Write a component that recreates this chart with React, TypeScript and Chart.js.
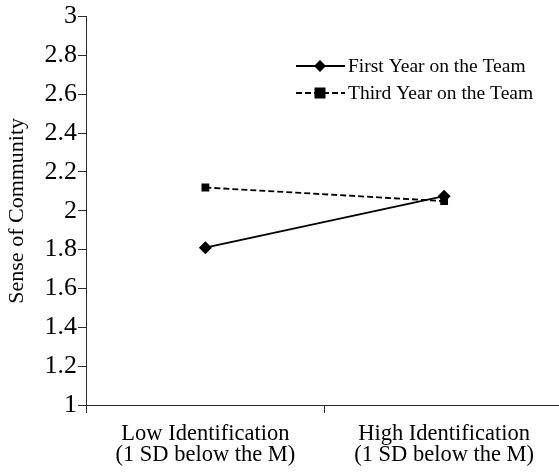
import React, { useEffect, useRef } from "react";
import { Chart, registerables } from "chart.js";

Chart.register(...registerables);

const categories: string[][] = [
  ["Low Identification", "(1 SD below the M)"],
  ["High Identification", "(1 SD below the M)"],
];
const firstYear: number[] = [1.81, 2.075];
const thirdYear: number[] = [2.12, 2.05];
const seriesNames: string[] = ["First Year on the Team", "Third Year on the Team"];
const yTicks: number[] = [1, 1.2, 1.4, 1.6, 1.8, 2, 2.2, 2.4, 2.6, 2.8, 3];
const yTickLabels: string[] = ["1", "1.2", "1.4", "1.6", "1.8", "2", "2.2", "2.4", "2.6", "2.8", "3"];
const yTitle = "Sense of Community";

const FONT = "'Times New Roman', 'Liberation Serif', serif";
const AXIS = "#2a2a2a";

function drawMarker(ctx: CanvasRenderingContext2D, style: string, x: number, y: number) {
  ctx.save();
  ctx.fillStyle = "#000";
  ctx.beginPath();
  if (style === "rectRot") {
    const r = 6;
    ctx.moveTo(x, y - r);
    ctx.lineTo(x + r, y);
    ctx.lineTo(x, y + r);
    ctx.lineTo(x - r, y);
    ctx.closePath();
  } else {
    ctx.rect(x - 5.5, y - 5.5, 11, 11);
  }
  ctx.fill();
  ctx.restore();
}

const legendPlugin = {
  id: "customLegend",
  afterDraw(chart: any) {
    const ctx: CanvasRenderingContext2D = chart.ctx;
    const rows = [66, 93];
    chart.data.datasets.forEach((ds: any, i: number) => {
      const y = rows[i];
      ctx.save();
      ctx.strokeStyle = "#000";
      ctx.lineWidth = 1.8;
      ctx.setLineDash(ds.borderDash || []);
      ctx.beginPath();
      ctx.moveTo(296, y);
      ctx.lineTo(345, y);
      ctx.stroke();
      ctx.setLineDash([]);
      drawMarker(ctx, ds.pointStyle, 320, y);
      ctx.fillStyle = "#000";
      ctx.font = `19.5px ${FONT}`;
      ctx.textAlign = "left";
      ctx.textBaseline = "middle";
      ctx.fillText(ds.label, 348, y + 1);
      ctx.restore();
    });
  },
};

export default function App() {
  const ref = useRef<HTMLCanvasElement | null>(null);

  useEffect(() => {
    if (!ref.current) return;
    const chart = new Chart(ref.current, {
      type: "line",
      data: {
        labels: categories,
        datasets: [
          {
            label: seriesNames[0],
            data: firstYear,
            borderColor: "#000",
            backgroundColor: "#000",
            borderWidth: 1.8,
            pointStyle: "rectRot",
            pointRadius: 6.5,
            pointBorderWidth: 0,
            pointBackgroundColor: "#000",
          },
          {
            label: seriesNames[1],
            data: thirdYear,
            borderColor: "#000",
            backgroundColor: "#000",
            borderWidth: 1.8,
            borderDash: [6, 3],
            pointStyle: "rect",
            pointRadius: 5.5,
            pointBorderWidth: 0,
            pointBackgroundColor: "#000",
          },
        ],
      },
      options: {
        responsive: false,
        animation: false,
        devicePixelRatio: 1,
        layout: { padding: { top: 16.5, right: 2, left: 0, bottom: 0 } },
        plugins: { legend: { display: false }, tooltip: { enabled: false } },
        scales: {
          x: {
            type: "category",
            offset: true,
            grid: { offset: true, drawOnChartArea: false, tickLength: 8, color: AXIS, lineWidth: 1 },
            border: { color: AXIS, width: 1 },
            ticks: {
              color: "#000",
              padding: 10,
              maxRotation: 0,
              autoSkip: false,
              font: { family: FONT, size: 22.5, lineHeight: 0.95 },
            },
            afterFit: (scale: any) => {
              scale.height = 67;
            },
          },
          y: {
            min: 1,
            max: 3,
            afterBuildTicks: (scale: any) => {
              scale.ticks = yTicks.map((v) => ({ value: v }));
            },
            grid: { drawOnChartArea: false, tickLength: 8, color: AXIS, lineWidth: 1 },
            border: { color: AXIS, width: 1 },
            ticks: {
              color: "#000",
              padding: 1,
              font: { family: FONT, size: 26 },
              callback: (_v: any, i: number) => yTickLabels[i],
            },
            title: {
              display: true,
              text: yTitle,
              color: "#000",
              font: { family: FONT, size: 22 },
              padding: { top: 4, bottom: 0 },
            },
            afterFit: (scale: any) => {
              scale.width = 86;
            },
          },
        },
      },
      plugins: [legendPlugin],
    });
    return () => chart.destroy();
  }, []);

  return (
    <div style={{ position: "absolute", left: 0, top: 0, width: 559, height: 472, overflow: "hidden", background: "#fff" }}>
      <canvas ref={ref} width={570} height={472} style={{ display: "block" }} />
    </div>
  );
}
